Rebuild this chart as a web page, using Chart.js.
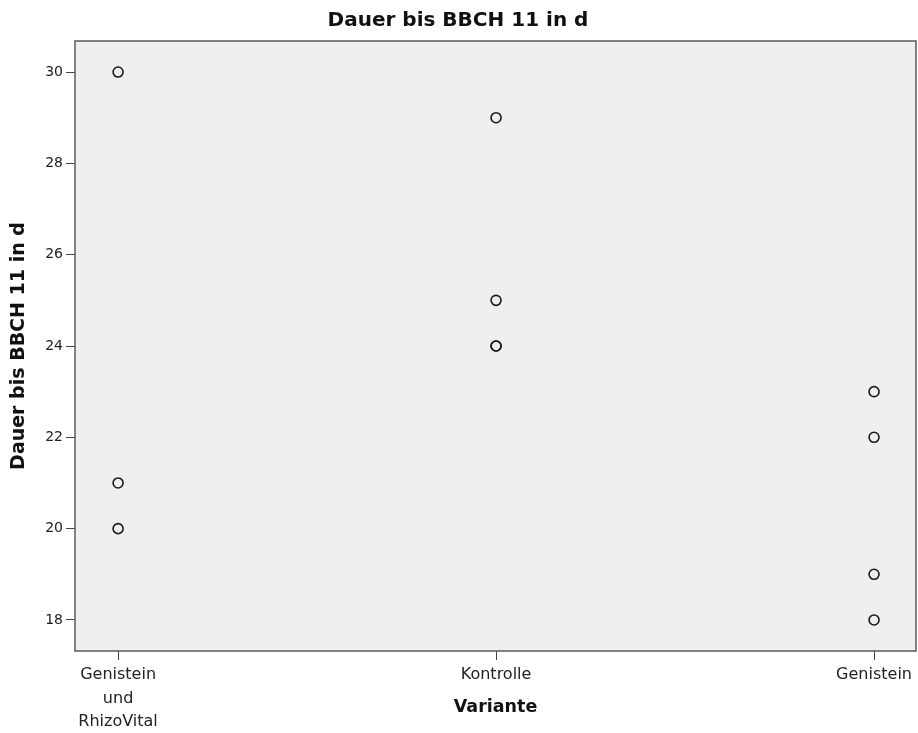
<!DOCTYPE html>
<html>
<head>
<meta charset="utf-8">
<script src="https://cdn.jsdelivr.net/npm/chart.js@4"></script>
<style>
  html, body { margin: 0; padding: 0; background: #ffffff; }
  #wrap { width: 918px; height: 733px; }
</style>
</head>
<body>
<div id="wrap"><canvas id="c" width="918" height="733"></canvas></div>
<script>
const categories = [["Genistein", "und", "RhizoVital"], "Kontrolle", "Genistein"];
const genisteinRhizoVital = [30, 21, 20];
const kontrolle = [29, 25, 24, 24];
const genistein = [23, 22, 19, 18];
const yTicks = [18, 20, 22, 24, 26, 28, 30];

const groups = [genisteinRhizoVital, kontrolle, genistein];
const points = [];
groups.forEach((vals, i) => vals.forEach(v => points.push({ x: i, y: v })));

const plotBg = {
  id: 'plotBg',
  beforeDraw(chart) {
    const { ctx, chartArea: a } = chart;
    ctx.save();
    ctx.fillStyle = '#efefef';
    ctx.fillRect(a.left, a.top, a.right - a.left, a.bottom - a.top);
    ctx.restore();
  },
  afterDraw(chart) {
    const { ctx, chartArea: a } = chart;
    ctx.save();
    ctx.strokeStyle = '#5a5a5a';
    ctx.lineWidth = 1.5;
    ctx.strokeRect(a.left, a.top, a.right - a.left, a.bottom - a.top);
    ctx.restore();
  }
};

new Chart(document.getElementById('c'), {
  type: 'scatter',
  data: {
    datasets: [{
      data: points,
      pointRadius: 5,
      pointHoverRadius: 5,
      pointBorderWidth: 1.6,
      pointBorderColor: '#1a1a1a',
      pointBackgroundColor: 'rgba(0,0,0,0)'
    }]
  },
  options: {
    responsive: false,
    animation: false,
    events: [],
    layout: { autoPadding: false, padding: { top: 2, right: 2, left: 0, bottom: 0 } },
    plugins: {
      legend: { display: false },
      tooltip: { enabled: false },
      title: {
        display: true,
        text: 'Dauer bis BBCH 11 in d',
        color: '#111',
        font: { family: 'DejaVu Sans, sans-serif', size: 20, weight: 'bold', lineHeight: 1.2 },
        padding: { top: 6.5, bottom: 8.5 }
      }
    },
    scales: {
      x: {
        type: 'linear',
        min: -0.114,
        max: 2.111,
        afterBuildTicks(scale) {
          scale.ticks = categories.map((_, i) => ({ value: i }));
        },
        afterFit(scale) {
          scale.height = 82;
          scale.paddingLeft = 0;
          scale.paddingRight = 0;
        },
        grid: { display: true, drawOnChartArea: false, drawTicks: true, tickLength: 9, color: '#444', lineWidth: 1 },
        border: { display: false },
        ticks: {
          color: '#222',
          padding: 3.5,
          maxRotation: 0,
          autoSkip: false,
          font: { family: 'DejaVu Sans, sans-serif', size: 16, lineHeight: 1.47 },
          callback: (v) => categories[v]
        },
        title: {
          display: true,
          text: 'Variante',
          color: '#111',
          font: { family: 'DejaVu Sans, sans-serif', size: 17.5, weight: 'bold', lineHeight: 1.2 },
          padding: { top: 0, bottom: 15 }
        }
      },
      y: {
        type: 'linear',
        min: 17.32,
        max: 30.68,
        afterBuildTicks(scale) {
          scale.ticks = yTicks.map(v => ({ value: v }));
        },
        afterFit(scale) { scale.width = 75; },
        grid: { display: true, drawOnChartArea: false, drawTicks: true, tickLength: 9, color: '#444', lineWidth: 1 },
        border: { display: false },
        ticks: {
          color: '#222',
          padding: 3,
          font: { family: 'DejaVu Sans, sans-serif', size: 14 }
        },
        title: {
          display: true,
          text: 'Dauer bis BBCH 11 in d',
          color: '#111',
          font: { family: 'DejaVu Sans, sans-serif', size: 19, weight: 'bold', lineHeight: 1.2 },
          padding: { top: 8, bottom: 0 }
        }
      }
    }
  },
  plugins: [plotBg]
});
</script>
</body>
</html>
